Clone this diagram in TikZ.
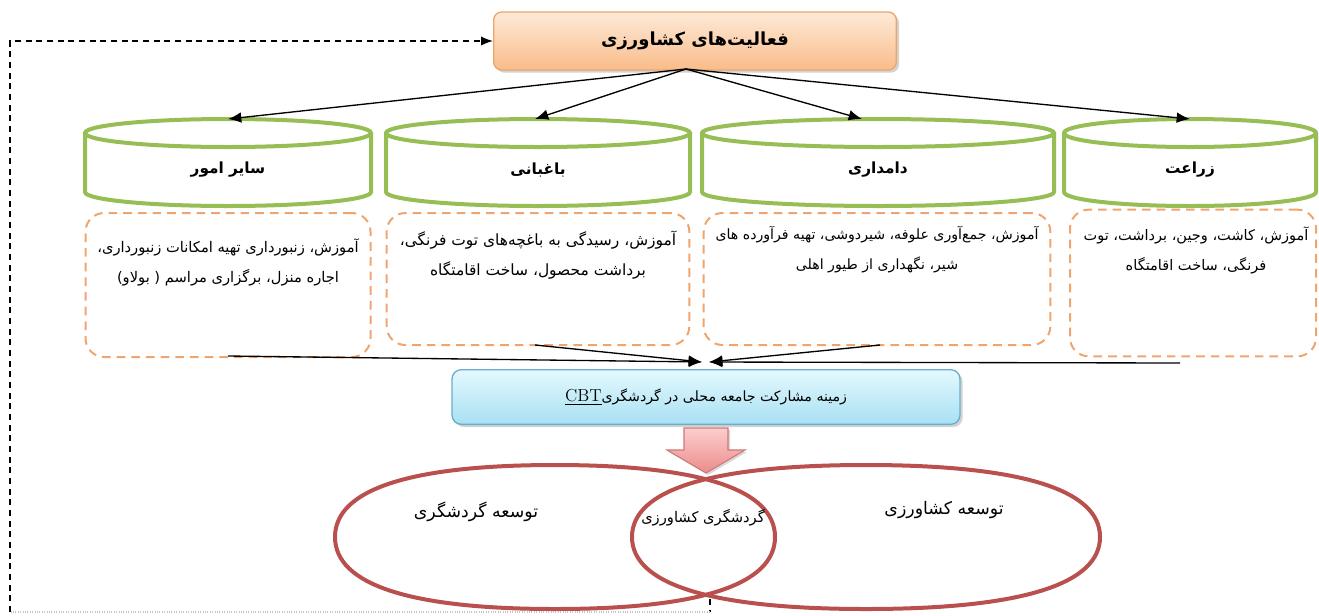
\documentclass[tikz,border=0pt]{standalone}
\usepackage{fontspec}
\newfontfamily\fa[Script=Arabic]{DejaVu Sans}
\newfontfamily\lat{DejaVu Sans}
\TeXXeTstate=1
\usetikzlibrary{arrows.meta,shadows,calc}
\definecolor{cylgreen}{RGB}{150,190,85}
\definecolor{dashor}{RGB}{240,165,110}
\definecolor{topA}{RGB}{253,234,216}
\definecolor{topB}{RGB}{249,188,138}
\definecolor{topEdge}{RGB}{238,165,105}
\definecolor{cbtA}{RGB}{228,249,254}
\definecolor{cbtB}{RGB}{168,224,243}
\definecolor{cbtEdge}{RGB}{105,175,205}
\definecolor{ellred}{RGB}{185,80,78}
\definecolor{pinkA}{RGB}{252,205,205}
\definecolor{pinkB}{RGB}{236,140,140}
\definecolor{pinkEdge}{RGB}{205,120,120}
\newcommand{\zw}{^^^^200c}
\tikzset{
  cylline/.style={draw=cylgreen, line width=3pt},
  cyllabel/.style={font=\fa\bfseries\fontsize{11.5}{14}\selectfont},
  dashbox/.style={draw=dashor, line width=1.5pt, dash pattern=on 6.5pt off 4.5pt, rounded corners=14pt},
  bodytext/.style={font=\fa\fontsize{11}{22.5}\selectfont, align=center},
  arr/.style={-{Latex[length=10pt,width=8pt]}, line width=1pt, black},
  fbdash/.style={dash pattern=on 4.5pt off 3.5pt, line width=1.1pt, black},
  elltext/.style={font=\fa\fontsize{13}{15}\selectfont},
  ellline/.style={draw=ellred, line width=3pt},
}
\newcommand{\drawcyl}[4]{%
  \draw[cylline] (#1-#2,133) -- (#1-#2,192) arc[start angle=180,end angle=0,x radius=#2,y radius=14] -- (#1+#2,133);
  \draw[cylline] (#1,133) ellipse[x radius=#2,y radius=14];
  \node[cyllabel] (#3) at (#1,170) {#4};
}
% rounded, slightly squarish ellipse: centre x, centre y, rx, ry
\newcommand{\softell}[4]{%
  \draw[ellline] ({#1+#3},#2)
    .. controls ({#1+#3},{#2+0.66*#4}) and ({#1+0.66*#3},{#2+#4}) .. (#1,{#2+#4})
    .. controls ({#1-0.66*#3},{#2+#4}) and ({#1-#3},{#2+0.66*#4}) .. ({#1-#3},#2)
    .. controls ({#1-#3},{#2-0.66*#4}) and ({#1-0.66*#3},{#2-#4}) .. (#1,{#2-#4})
    .. controls ({#1+0.66*#3},{#2-#4}) and ({#1+#3},{#2-0.66*#4}) .. cycle;
}
\begin{document}
\begin{tikzpicture}[x=0.75pt,y=-0.75pt]
\useasboundingbox (0,0) rectangle (1319,615);

% top box
\node[draw=topEdge, line width=1pt, rounded corners=6pt, minimum width=302pt, minimum height=43.5pt,
  top color=topA, bottom color=topB, drop shadow={shadow xshift=2pt, shadow yshift=-2pt, opacity=.35},
  font=\fa\bfseries\fontsize{13.5}{16}\selectfont] (top) at (695,41) {\fa\beginR فعالیت\zw های کشاورزی\endR};

% cylinders
\drawcyl{228}{143}{c1}{\fa\beginR سایر امور\endR}
\drawcyl{538}{152}{c2}{\fa\beginR باغبانی\endR}
\drawcyl{878}{176}{c3}{\fa\beginR دامداری\endR}
\drawcyl{1190}{126}{c4}{\fa\beginR زراعت\endR}
\coordinate (t1) at (228,119);
\coordinate (t2) at (535,119);
\coordinate (t3) at (862,119);
\coordinate (t4) at (1190,119);
\coordinate (topout) at (686,69);
\foreach \i in {1,2,3,4} \draw[arr] (topout) -- (t\i);

% dashed boxes
\node[dashbox, minimum width=213.75pt, minimum height=108pt] (b1) at (228,285) {};
\node[dashbox, minimum width=227pt, minimum height=99pt] (b2) at (538,279) {};
\node[dashbox, minimum width=260pt, minimum height=99pt] (b3) at (877,279) {};
\node[dashbox, minimum width=184.5pt, minimum height=110pt] (b4) at (1193,283) {};

\node[bodytext] (x1) at (228,262) {\beginR آموزش، زنبورداری تهیه امکانات زنبورداری،\endR\\\beginR اجاره منزل، برگزاری مراسم \beginL{\lat(}{\fa بولاو}\ {\lat)}\endL\endR};
\node[bodytext, font=\fa\fontsize{11.6}{22.5}\selectfont] (x2) at (538,255) {\beginR آموزش، رسیدگی به باغچه\zw های توت فرنگی،\endR\\\beginR برداشت محصول، ساخت اقامتگاه\endR};
\node[bodytext, font=\fa\fontsize{10.6}{22.5}\selectfont] (x3) at (877,250) {\beginR آموزش، جمع\zw آوری علوفه، شیردوشی، تهیه فرآورده های\endR\\\beginR شیر، نگهداری از طیور اهلی\endR};
\node[bodytext, font=\fa\fontsize{10.9}{22.5}\selectfont] (x4) at (1196,250) {\beginR آموزش، کاشت، وجین، برداشت، توت\endR\\\beginR فرنگی، ساخت اقامتگاه\endR};

% CBT box
\node[draw=cbtEdge, line width=1pt, rounded corners=7pt, minimum width=381pt, minimum height=41pt,
  top color=cbtA, bottom color=cbtB, drop shadow={shadow xshift=2pt, shadow yshift=-2pt, opacity=.35},
  font=\fa\fontsize{10.6}{13}\selectfont] (cbt) at (706,397)
  {\beginR زمینه مشارکت جامعه محلی در گردشگری\beginL{\rmfamily\fontsize{13}{15}\selectfont\underline{CBT}}\endL\endR};
\coordinate (inL) at (702,362);
\coordinate (inR) at (709,362);
\coordinate (s1) at (228,356);
\coordinate (s2) at (535,345);
\coordinate (s3) at (880,345);
\coordinate (s4) at (1180,363);
\draw[arr] (s1) -- (inL);
\draw[arr] (s2) -- (inL);
\draw[arr] (s3) -- (inR);
\draw[arr] (s4) -- (inR);

% block arrow
\path[draw=pinkEdge, line width=0.8pt, top color=pinkA, bottom color=pinkB, drop shadow={shadow xshift=1.5pt, shadow yshift=-1.5pt, opacity=.3}]
  (684,428) -- (728,428) -- (728,450) -- (745,450) -- (706,473) -- (667,450) -- (684,450) -- cycle;

% ellipses
\softell{555}{537}{220}{72}
\softell{866}{537}{234}{72}
\node[elltext] (e1) at (476,512) {\fa\beginR توسعه گردشگری\endR};
\node[elltext] (e2) at (944,510) {\fa\beginR توسعه کشاورزی\endR};
\node[font=\fa\fontsize{11}{13}\selectfont] (e3) at (703,518) {\beginR گردشگری کشاورزی\endR};

% feedback loop
\coordinate (lensB) at (710,599);
\coordinate (fbA) at (710,612);
\coordinate (fbB) at (10,612);
\draw[fbdash] (lensB) -- (fbA);
\draw[gray!45, line width=0.8pt, densely dotted] (fbA) -- (fbB);
\draw[fbdash, -{Latex[length=9pt,width=7pt]}] (fbB) |- (top.west);
\end{tikzpicture}
\end{document}
